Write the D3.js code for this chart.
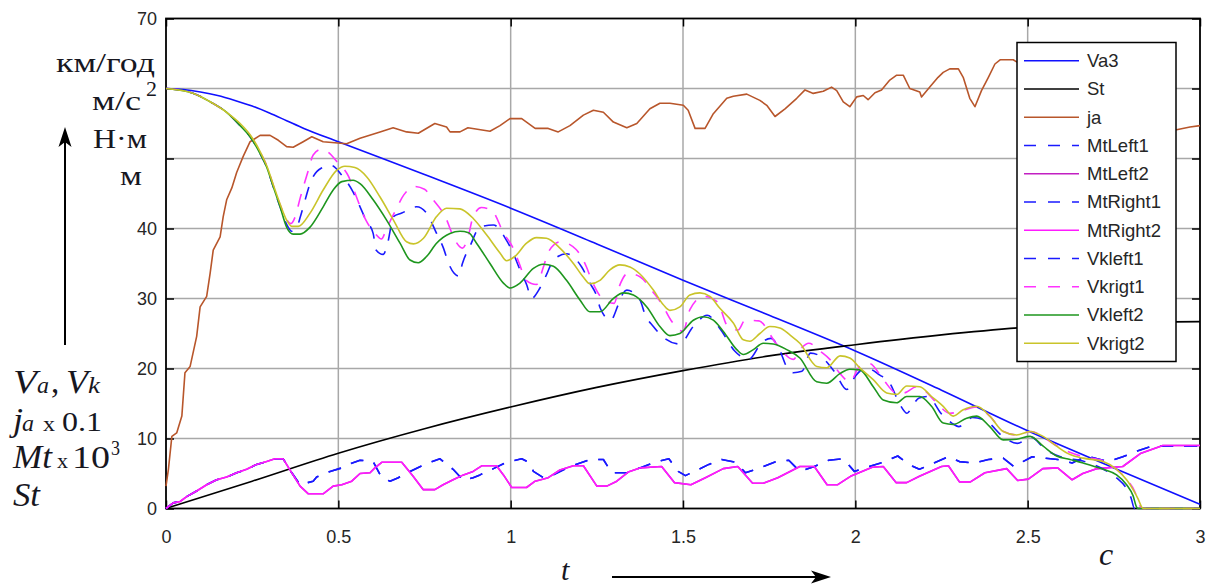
<!DOCTYPE html>
<html><head><meta charset="utf-8">
<script src="https://cdn.jsdelivr.net/npm/d3@7"></script>
<style>body{margin:0;background:#fff}svg{display:block}</style>
</head><body>
<svg id="c" width="1215" height="587"></svg>
<script>
// ---------- data ----------
const xTicks = [0, 0.5, 1, 1.5, 2, 2.5, 3];
const xTickLabels = ["0", "0.5", "1", "1.5", "2", "2.5", "3"];
const yTicks = [0, 10, 20, 30, 40, 50, 60, 70];
const yTickLabels = ["0", "10", "20", "30", "40", "", "", "70"];
const seriesNames = ["Va3", "St", "ja", "MtLeft1", "MtLeft2", "MtRight1", "MtRight2", "Vkleft1", "Vkrigt1", "Vkleft2", "Vkrigt2"];

const va3 = [[0,60],[0.05,59.85],[0.1,59.5],[0.15,59.0],[0.2,58.3],[0.25,57.5],[0.3,56.5],[0.35,55.4],[0.4,54.3],[0.5,52.4],[0.75,47.7],[1.0,42.9],[1.25,37.8],[1.5,32.6],[1.75,27.6],[2.0,22.5],[2.25,16.9],[2.5,11.1],[2.75,5.8],[3.0,0.6]];

const st = [[0,0],[0.25,3.9],[0.5,7.9],[0.75,11.4],[1.0,14.5],[1.25,17.3],[1.5,19.7],[1.75,21.8],[2.0,23.4],[2.25,24.8],[2.5,25.9],[2.75,26.5],[3.0,26.7]];

const ja = [[0,3.2],[0.007,5.6],[0.017,10.3],[0.031,10.8],[0.046,13.2],[0.055,19.4],[0.07,20.3],[0.089,24.6],[0.099,28.8],[0.118,30.3],[0.128,33.6],[0.137,36.9],[0.157,38.8],[0.166,41.7],[0.176,44.1],[0.191,45.8],[0.205,48.0],[0.224,50.3],[0.244,52.4],[0.273,53.3],[0.302,53.3],[0.326,52.6],[0.35,51.7],[0.369,51.6],[0.398,52.4],[0.423,53.1],[0.456,52.4],[0.524,52.1],[0.563,52.9],[0.621,53.8],[0.659,54.4],[0.698,53.8],[0.732,53.6],[0.78,55.0],[0.814,54.5],[0.824,53.8],[0.853,53.8],[0.876,54.4],[0.94,53.9],[0.969,54.7],[0.998,55.7],[1.032,55.7],[1.071,54.3],[1.109,54.3],[1.138,53.8],[1.172,54.7],[1.211,56.2],[1.24,56.9],[1.269,56.6],[1.298,55.2],[1.337,54.4],[1.366,55.0],[1.404,57.1],[1.433,57.9],[1.462,57.9],[1.501,57.6],[1.515,56.9],[1.535,54.3],[1.564,54.3],[1.588,56.4],[1.627,58.6],[1.646,58.9],[1.685,59.2],[1.723,58.3],[1.743,57.6],[1.767,56.0],[1.796,57.1],[1.83,58.6],[1.854,59.8],[1.878,59.3],[1.907,59.6],[1.931,60.2],[1.946,59.7],[1.965,58.1],[1.984,57.4],[2.004,58.8],[2.023,59.0],[2.037,58.4],[2.057,59.4],[2.076,59.8],[2.1,61.2],[2.12,61.9],[2.139,61.9],[2.158,60.0],[2.187,59.5],[2.192,58.8],[2.216,60.2],[2.24,61.6],[2.255,62.3],[2.274,62.8],[2.299,62.8],[2.313,61.6],[2.332,58.6],[2.347,57.4],[2.366,59.7],[2.386,61.6],[2.405,63.5],[2.42,64.1],[2.458,64.1],[2.468,63.8],[2.6,60.0],[2.8,55.0],[2.932,54.1],[2.971,54.5],[3.0,54.7]];

const mtLeft1 = [[0,0],[0.021,0.8],[0.041,1.0],[0.06,1.7],[0.089,2.5],[0.118,3.4],[0.147,4.1],[0.176,4.5],[0.205,5.1],[0.234,5.6],[0.263,6.3],[0.292,6.7],[0.316,7.1],[0.34,7.1],[0.365,5.1],[0.389,3.4],[0.427,3.9],[0.437,4.5],[0.476,5.3],[0.51,5.8],[0.529,6.3],[0.563,6.9],[0.601,6.7],[0.626,4.4],[0.65,3.9],[0.674,4.4],[0.708,5.3],[0.756,6.4],[0.795,7.1],[0.809,6.5],[0.833,5.6],[0.863,4.0],[0.891,4.4],[0.911,4.8],[0.95,5.7],[0.988,6.6],[1.032,7.1],[1.056,6.5],[1.066,5.3],[1.095,4.4],[1.124,4.8],[1.172,6.0],[1.23,7.0],[1.269,7.0],[1.293,5.1],[1.337,5.1],[1.375,5.8],[1.424,6.7],[1.459,7.1],[1.486,5.3],[1.507,4.7],[1.533,5.3],[1.575,6.3],[1.612,7.0],[1.654,6.6],[1.681,5.1],[1.723,5.8],[1.77,6.7],[1.807,6.9],[1.839,5.3],[1.881,6.0],[1.923,6.9],[1.965,7.1],[1.997,5.3],[2.039,6.0],[2.081,6.6],[2.123,7.5],[2.155,6.3],[2.186,5.6],[2.228,6.5],[2.27,7.4],[2.302,6.7],[2.344,6.5],[2.386,7.0],[2.429,7.2],[2.46,6.0],[2.513,7.4],[2.587,7.0],[2.629,6.5],[2.671,7.5],[2.734,6.7],[2.776,7.4],[2.818,8.2],[2.86,8.9],[3.0,8.9]];
const mtRight1 = mtLeft1; // both dashed blue torque curves coincide on the picture

const mtLeft2 = [[0,0],[0.021,0.8],[0.041,1.0],[0.06,1.7],[0.089,2.5],[0.118,3.4],[0.147,4.1],[0.176,4.5],[0.205,5.1],[0.234,5.6],[0.263,6.3],[0.292,6.7],[0.316,7.1],[0.34,7.1],[0.365,5.1],[0.389,3.2],[0.413,2.1],[0.456,2.1],[0.485,3.2],[0.51,3.4],[0.539,3.9],[0.563,5.0],[0.592,5.1],[0.606,5.8],[0.626,6.6],[0.684,6.6],[0.717,4.6],[0.746,2.7],[0.78,2.7],[0.804,3.4],[0.833,4.1],[0.863,4.8],[0.891,5.3],[0.916,6.1],[0.959,6.1],[0.979,4.8],[1.003,3.0],[1.046,3.0],[1.071,3.9],[1.109,4.4],[1.143,5.5],[1.182,6.1],[1.211,6.1],[1.25,3.2],[1.279,3.2],[1.308,3.9],[1.341,5.2],[1.375,5.8],[1.438,6.0],[1.475,3.7],[1.523,3.4],[1.565,4.4],[1.617,5.7],[1.659,6.0],[1.702,3.6],[1.733,3.6],[1.775,4.4],[1.839,6.0],[1.881,6.0],[1.918,3.4],[1.949,3.4],[1.986,4.6],[2.049,5.9],[2.081,6.0],[2.118,3.7],[2.149,3.7],[2.186,4.6],[2.25,6.0],[2.27,6.1],[2.302,3.8],[2.334,3.8],[2.376,5.1],[2.439,5.7],[2.471,4.0],[2.502,4.2],[2.544,5.7],[2.587,5.8],[2.629,4.1],[2.66,5.0],[2.702,5.7],[2.776,6.0],[2.829,7.9],[2.892,9.0],[3.0,9.0]];
const mtRight2 = mtLeft2; // both solid magenta torque curves coincide on the picture

const vkleft1 = [[0,60],[0.08,59.3],[0.128,58.1],[0.176,56.6],[0.215,54.7],[0.244,53.1],[0.273,50.7],[0.292,48.8],[0.311,46.0],[0.331,43.1],[0.35,40.6],[0.365,39.6],[0.38,40.2],[0.39,41.7],[0.405,44.3],[0.415,46.0],[0.45,48.6],[0.48,49.0],[0.51,47.6],[0.543,45.2],[0.563,43.1],[0.58,41.2],[0.601,39.3],[0.61,36.9],[0.63,36.3],[0.643,37.9],[0.66,41.7],[0.684,42.2],[0.727,43.1],[0.756,42.2],[0.785,39.3],[0.805,37.2],[0.82,35.0],[0.85,33.2],[0.86,35.0],[0.883,37.6],[0.911,40.2],[0.95,40.5],[0.988,38.3],[1.008,36.4],[1.027,34.1],[1.047,31.9],[1.06,30.0],[1.085,31.5],[1.104,33.4],[1.124,35.5],[1.162,36.4],[1.206,34.5],[1.23,32.2],[1.25,30.3],[1.26,28.6],[1.29,26.9],[1.312,29.1],[1.327,30.8],[1.337,31.2],[1.375,29.8],[1.39,27.7],[1.414,26.0],[1.45,24.2],[1.49,23.5],[1.53,26.0],[1.57,27.6],[1.61,25.5],[1.65,22.5],[1.69,21.3],[1.73,23.8],[1.755,24.3],[1.78,22.7],[1.8,20.3],[1.82,19.4],[1.845,19.6],[1.87,22.2],[1.9,21.7],[1.94,19.5],[1.975,17.0],[2.0,18.9],[2.03,20.1],[2.07,19.1],[2.1,17.9],[2.13,14.8],[2.15,13.6],[2.165,14.6],[2.185,15.8],[2.21,16.0],[2.25,13.5],[2.28,12.2],[2.3,11.7],[2.34,13.0],[2.38,12.5],[2.43,10.2],[2.47,9.3],[2.51,10.2],[2.55,8.5],[2.6,7.3],[2.66,6.8],[2.72,5.6],[2.76,4.3],[2.785,3.0],[2.8,1.5],[2.81,0],[3,0]];

const vkrigt1 = [[0,60],[0.08,59.3],[0.128,58.1],[0.176,56.6],[0.215,54.8],[0.244,53.3],[0.273,50.9],[0.292,49.0],[0.311,46.2],[0.331,43.4],[0.35,41.3],[0.362,40.7],[0.375,41.7],[0.389,44.3],[0.413,48.3],[0.427,50.5],[0.45,51.3],[0.468,51.0],[0.5,49.3],[0.53,47.4],[0.545,45.5],[0.58,41.2],[0.61,39.1],[0.625,38.5],[0.64,40.0],[0.665,42.5],[0.69,44.8],[0.72,46.0],[0.75,45.6],[0.775,44.1],[0.81,41.7],[0.84,38.2],[0.86,37.2],[0.875,38.5],[0.89,41.5],[0.915,43.0],[0.945,42.6],[0.98,39.3],[1.005,37.4],[1.025,35.0],[1.045,32.6],[1.075,32.0],[1.095,34.5],[1.11,36.7],[1.145,38.1],[1.19,37.0],[1.22,34.5],[1.235,32.6],[1.27,29.8],[1.3,29.3],[1.315,31.7],[1.34,33.6],[1.375,33.1],[1.415,30.8],[1.44,29.1],[1.465,26.9],[1.5,25.3],[1.52,28.4],[1.56,30.3],[1.6,29.5],[1.63,26.0],[1.66,25.5],[1.68,26.9],[1.72,26.8],[1.77,23.6],[1.82,21.3],[1.84,22.7],[1.865,23.6],[1.9,22.4],[1.926,21.3],[1.955,19.3],[1.984,18.1],[2.013,20.3],[2.042,20.7],[2.081,18.4],[2.12,16.5],[2.14,16.5],[2.178,17.4],[2.197,17.0],[2.236,15.1],[2.274,13.6],[2.3,13.8],[2.35,14.5],[2.39,13.2],[2.43,11.0],[2.47,10.5],[2.51,11.0],[2.55,10.0],[2.6,8.5],[2.66,7.4],[2.72,6.8],[2.76,5.5],[2.79,4.0],[2.81,2.5],[2.825,0.5],[2.83,0],[3,0]];

const vkleft2 = [[0,60],[0.08,59.3],[0.128,58.1],[0.176,56.6],[0.215,54.7],[0.244,53.1],[0.273,50.7],[0.292,48.8],[0.311,46.0],[0.331,43.1],[0.35,40.2],[0.369,39.2],[0.389,39.2],[0.418,40.2],[0.456,43.1],[0.485,45.5],[0.51,46.7],[0.543,46.9],[0.563,46.4],[0.601,44.1],[0.64,41.2],[0.679,37.9],[0.708,35.5],[0.732,35.1],[0.756,36.0],[0.785,37.9],[0.824,39.3],[0.853,39.6],[0.878,39.4],[0.901,37.9],[0.94,35.0],[0.979,32.2],[0.998,31.5],[1.027,32.2],[1.066,34.3],[1.094,34.9],[1.124,34.6],[1.162,32.6],[1.201,29.8],[1.23,28.1],[1.259,28.1],[1.298,30.0],[1.327,30.8],[1.356,30.5],[1.395,28.8],[1.433,26.0],[1.462,24.7],[1.491,25.0],[1.53,26.9],[1.559,27.4],[1.588,26.9],[1.617,25.3],[1.656,22.7],[1.675,22.0],[1.704,22.7],[1.733,23.6],[1.762,23.5],[1.801,22.7],[1.839,21.5],[1.888,18.1],[1.917,17.9],[1.956,19.3],[1.984,19.9],[2.013,19.8],[2.052,17.4],[2.081,15.5],[2.12,15.1],[2.149,16.0],[2.187,16.0],[2.221,14.6],[2.255,12.2],[2.284,12.0],[2.323,12.9],[2.352,13.2],[2.39,11.7],[2.429,9.8],[2.468,9.9],[2.507,10.3],[2.545,8.9],[2.584,7.5],[2.623,7.0],[2.661,6.5],[2.719,5.6],[2.758,4.8],[2.787,3.4],[2.806,1.8],[2.816,0.2],[2.82,0],[3,0]];

const vkrigt2 = [[0,60],[0.08,59.3],[0.128,58.1],[0.176,56.6],[0.215,55.0],[0.244,53.4],[0.273,51.0],[0.292,49.0],[0.311,46.3],[0.331,43.5],[0.35,41.2],[0.365,40.3],[0.384,40.3],[0.418,42.2],[0.456,45.5],[0.495,48.3],[0.519,48.9],[0.548,48.7],[0.582,47.4],[0.621,44.5],[0.66,41.2],[0.698,38.1],[0.718,37.8],[0.747,38.6],[0.785,41.7],[0.814,42.9],[0.853,42.8],[0.892,41.4],[0.93,39.1],[0.969,36.5],[0.988,35.4],[1.012,36.0],[1.046,37.9],[1.075,38.7],[1.104,38.6],[1.143,37.2],[1.182,35.0],[1.21,33.1],[1.23,32.1],[1.259,32.6],[1.288,34.1],[1.317,34.8],[1.346,34.5],[1.375,33.5],[1.414,31.2],[1.443,29.1],[1.462,28.3],[1.491,28.8],[1.52,30.5],[1.549,30.8],[1.578,30.3],[1.607,28.6],[1.646,26.5],[1.675,24.1],[1.694,23.9],[1.723,25.0],[1.752,26.0],[1.781,25.8],[1.81,24.8],[1.839,23.6],[1.888,20.3],[1.917,20.1],[1.956,21.8],[1.984,21.5],[2.013,20.1],[2.052,18.4],[2.091,16.5],[2.12,16.3],[2.149,17.5],[2.187,17.4],[2.221,16.0],[2.255,14.6],[2.284,13.2],[2.313,14.1],[2.352,14.6],[2.39,13.2],[2.429,11.0],[2.468,10.5],[2.507,11.0],[2.545,10.3],[2.584,8.9],[2.623,7.7],[2.661,7.2],[2.719,6.7],[2.758,5.6],[2.787,4.1],[2.806,2.7],[2.821,1.3],[2.831,0.2],[2.835,0],[3,0]];

// ---------- drawing ----------
const svg = d3.select("#c");
const x = d3.scaleLinear().domain([0, 3]).range([166, 1200]);
const y = d3.scaleLinear().domain([0, 70]).range([508.5, 18.5]);
const SANS = "'Liberation Sans', Arial, sans-serif";
const SERIF = "'Liberation Serif', 'Times New Roman', serif";

// grid
const grid = svg.append("g");
grid.selectAll(".gx").data(xTicks.slice(1, -1)).join("line")
  .attr("x1", d => x(d)).attr("x2", d => x(d)).attr("y1", y(0)).attr("y2", y(70))
  .attr("stroke", "#a8a8a8").attr("stroke-width", 1.5);
grid.selectAll(".gy").data(yTicks.slice(1, -1)).join("line")
  .attr("x1", x(0)).attr("x2", x(3)).attr("y1", d => y(d)).attr("y2", d => y(d))
  .attr("stroke", "#a8a8a8").attr("stroke-width", 1.5);

function styleAxis(g) {
  g.select(".domain").remove();
  g.attr("font-family", SANS).attr("font-size", 18);
  g.selectAll("text").attr("fill", "#262626");
  g.selectAll("line").attr("stroke", "#000").attr("stroke-width", 1.5);
}
svg.append("g").attr("transform", `translate(0,${y(0)})`)
  .call(d3.axisBottom(x).tickValues(xTicks).tickFormat((d, i) => xTickLabels[i]).tickSizeInner(-8).tickSizeOuter(0).tickPadding(22))
  .call(styleAxis);
svg.append("g").attr("transform", `translate(0,${y(70)})`)
  .call(d3.axisTop(x).tickValues(xTicks).tickFormat("").tickSizeInner(-8).tickSizeOuter(0))
  .call(styleAxis);
svg.append("g").attr("transform", `translate(${x(0)},0)`)
  .call(d3.axisLeft(y).tickValues(yTicks).tickFormat((d, i) => yTickLabels[i]).tickSizeInner(-8).tickSizeOuter(0).tickPadding(9))
  .call(styleAxis);
svg.append("g").attr("transform", `translate(${x(3)},0)`)
  .call(d3.axisRight(y).tickValues(yTicks).tickFormat("").tickSizeInner(-8).tickSizeOuter(0))
  .call(styleAxis);

svg.append("rect").attr("x", x(0)).attr("y", y(70)).attr("width", x(3) - x(0)).attr("height", y(0) - y(70))
  .attr("fill", "none").attr("stroke", "#000").attr("stroke-width", 1.8);

// series
const series = [
  {name: seriesNames[0], data: va3, color: "#1010ff", dash: null, curve: d3.curveMonotoneX},
  {name: seriesNames[1], data: st, color: "#000000", dash: null, curve: d3.curveMonotoneX},
  {name: seriesNames[2], data: ja, color: "#b8562b", dash: null, curve: d3.curveLinear},
  {name: seriesNames[3], data: mtLeft1, color: "#1a1aff", dash: "13,11", curve: d3.curveLinear},
  {name: seriesNames[4], data: mtLeft2, color: "#c21fc2", dash: null, curve: d3.curveLinear},
  {name: seriesNames[5], data: mtRight1, color: "#1a1aff", dash: "13,11", curve: d3.curveLinear},
  {name: seriesNames[6], data: mtRight2, color: "#ff1aff", dash: null, curve: d3.curveLinear},
  {name: seriesNames[7], data: vkleft1, color: "#1a1aff", dash: "13,11", curve: d3.curveMonotoneX},
  {name: seriesNames[8], data: vkrigt1, color: "#ff33ff", dash: "13,11", curve: d3.curveMonotoneX},
  {name: seriesNames[9], data: vkleft2, color: "#1e961e", dash: null, curve: d3.curveMonotoneX},
  {name: seriesNames[10], data: vkrigt2, color: "#c9c42a", dash: null, curve: d3.curveMonotoneX}
];
const plot = svg.append("g");
series.forEach(s => {
  const line = d3.line().x(d => x(d[0])).y(d => y(d[1])).curve(s.curve);
  plot.append("path").datum(s.data).attr("d", line).attr("fill", "none")
    .attr("stroke", s.color).attr("stroke-width", 1.6)
    .attr("stroke-dasharray", s.dash).attr("stroke-linejoin", "round");
});

// legend
const lg = svg.append("g");
lg.append("rect").attr("x", 1017).attr("y", 42.5).attr("width", 159).attr("height", 319)
  .attr("fill", "#fff").attr("stroke", "#000").attr("stroke-width", 1.5);
series.forEach((s, i) => {
  const cy = 60.7 + i * 28.25;
  lg.append("line").attr("x1", 1024).attr("x2", 1079).attr("y1", cy).attr("y2", cy)
    .attr("stroke", s.color).attr("stroke-width", 1.6).attr("stroke-dasharray", s.dash ? "12,12" : null);
  lg.append("text").attr("x", 1087).attr("y", cy + 6.5).text(s.name)
    .attr("font-family", SANS).attr("font-size", 18.5).attr("fill", "#262626");
});

// annotations (units, upper left)
const INK = "#17171f";
const ann = svg.append("g").attr("font-family", SERIF).attr("fill", INK);
ann.append("text").attr("x", 56).attr("y", 72).attr("font-size", 28).attr("textLength", 99).attr("lengthAdjust", "spacingAndGlyphs").text("км/год");
ann.append("text").attr("x", 92).attr("y", 110).attr("font-size", 28).attr("textLength", 49).attr("lengthAdjust", "spacingAndGlyphs").text("м/с");
ann.append("text").attr("x", 146).attr("y", 96).attr("font-size", 22).text("2");
ann.append("text").attr("x", 93).attr("y", 148).attr("font-size", 28).attr("textLength", 54).attr("lengthAdjust", "spacingAndGlyphs").text("Н·м");
ann.append("text").attr("x", 120).attr("y", 185).attr("font-size", 28).attr("textLength", 22).attr("lengthAdjust", "spacingAndGlyphs").text("м");

// vertical arrow
svg.append("line").attr("x1", 65).attr("x2", 65).attr("y1", 345).attr("y2", 138).attr("stroke", "#000").attr("stroke-width", 2);
svg.append("path").attr("d", "M65,127 L71.5,147 L65,142 L58.5,147 Z").attr("fill", "#000");

// quantity names (lower left)
const q = svg.append("g").attr("font-family", SERIF).attr("fill", INK);
function put(t, xx, yy, size, italic, len) {
  const e = q.append("text").attr("x", xx).attr("y", yy).attr("font-size", size).text(t);
  if (italic) e.attr("font-style", "italic");
  if (len) e.attr("textLength", len).attr("lengthAdjust", "spacingAndGlyphs");
  return e;
}
put("V", 13, 393, 33, true, 24); put("a", 37, 393, 24, true, 12); put(",", 51, 393, 33, false);
put("V", 66, 393, 33, true, 22); put("k", 88, 393, 24, true, 12);
put("j", 13, 431, 33, true, 10); put("a", 22, 431, 24, true, 12);
put("x", 43, 431, 22, false, 12); put("0.1", 62, 431, 28, false, 40);
put("Mt", 13, 468, 33, true, 39); put("x", 57, 468, 22, false, 11);
put("10", 72, 468, 32, false, 38); put("3", 111, 455, 20, false, 9);
put("St", 13, 506, 33, true, 27);

// bottom: t arrow, c
put("t", 561, 580, 30, true);
svg.append("line").attr("x1", 612).attr("x2", 818).attr("y1", 577).attr("y2", 577).attr("stroke", "#000").attr("stroke-width", 2);
svg.append("path").attr("d", "M831,577 L811,570.5 L816,577 L811,583.5 Z").attr("fill", "#000");
put("c", 1099, 565, 32, true);
</script>
</body></html>
